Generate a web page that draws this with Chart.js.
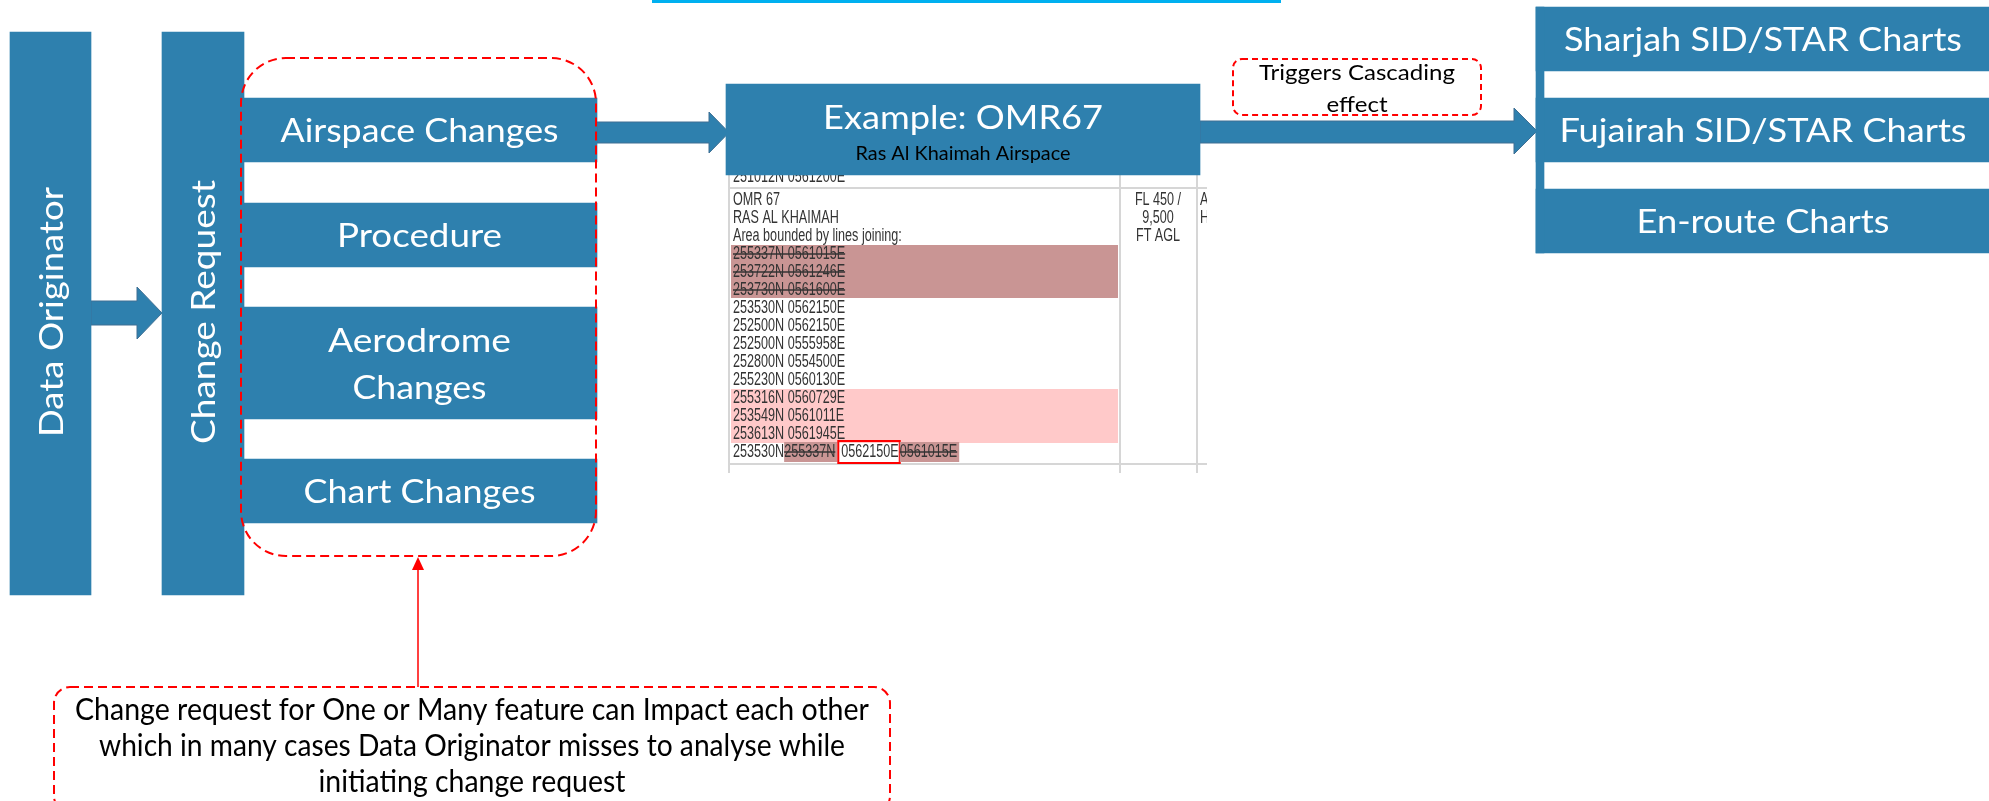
<!DOCTYPE html>
<html>
<head>
<meta charset="utf-8">
<script src="https://cdn.jsdelivr.net/npm/chart.js@4.4.1/dist/chart.umd.min.js"></script>
<style>
  html, body { margin: 0; padding: 0; background: #ffffff; }
  #wrap { width: 1989px; height: 801px; position: relative; }
</style>
</head>
<body>
<div id="wrap"><canvas id="flowChart"></canvas></div>
<script>
// ---- content ----
const sourceLabels = ["Data Originator", "Change Request"];
const changeTypes = [["Airspace Changes"], ["Procedure"], ["Aerodrome", "Changes"], ["Chart Changes"]];
const exampleTitle = "Example: OMR67";
const exampleSubtitle = "Ras Al Khaimah Airspace";
const affectedCharts = ["Sharjah SID/STAR Charts", "Fujairah SID/STAR Charts", "En-route Charts"];
const cascadeNote = ["Triggers Cascading", "effect"];
const impactNote = [
  "Change request for One or Many feature can Impact each other",
  "which in many cases Data Originator misses to analyse while",
  "initiating change request"
];
// AIP extract shown under the example box
const tableHeadRows = ["OMR 67", "RAS AL KHAIMAH", "Area bounded by lines joining:"];
const removedPoints = ["255337N 0561015E", "253722N 0561246E", "253730N 0561600E"];
const keptPoints = ["253530N 0562150E", "252500N 0562150E", "252500N 0555958E", "252800N 0554500E", "255230N 0560130E"];
const addedPoints = ["255316N 0560729E", "253549N 0561011E", "253613N 0561945E"];
const closingPoint = ["253530N", "255337N", "0562150E", "0561015E"];
const limitsText = ["FL 450 /", "9,500", "FT AGL"];

// ---- layout (pixel units of the hidden linear axes) ----
const W = 1989, H = 801;
const BLUE = "#2e80ae";
const srcCols = [[10, 91], [162, 244]];
const srcTop = 32, srcBottom = 595;
const chgX = [242, 597];
const chgRows = [[98, 162], [203, 267], [307, 419], [459, 523]];
const exBox = { x0: 726, x1: 1200, y0: 84, y1: 175 };
const rightX = [1536, 1995];
const rightRows = [[7, 71], [98, 162], [189, 253]];

function bar(x0, x1, y0, y1) {
  return {
    type: "bar",
    data: [{ x: (x0 + x1) / 2, y: [y0, y1] }],
    barThickness: x1 - x0,
    backgroundColor: BLUE,
    borderWidth: 0,
    grouped: false
  };
}

const datasets = [];
srcCols.forEach(c => datasets.push(bar(c[0], c[1], srcTop, srcBottom)));
chgRows.forEach(r => datasets.push(bar(chgX[0], chgX[1], r[0], r[1])));
datasets.push(bar(exBox.x0, exBox.x1, exBox.y0, exBox.y1));
datasets.push(bar(rightX[0], rightX[0] + 8, rightRows[0][0], rightRows[2][1]));
rightRows.forEach(r => datasets.push(bar(rightX[0], rightX[1], r[0], r[1])));

function fitText(ctx, text, cx, y, font, width, color) {
  ctx.save();
  ctx.font = font;
  ctx.fillStyle = color;
  ctx.textAlign = "center";
  ctx.textBaseline = "alphabetic";
  const m = ctx.measureText(text).width;
  ctx.translate(cx, y);
  ctx.scale(width / m, 1);
  ctx.fillText(text, 0, 0);
  ctx.restore();
}

function dashedRound(ctx, x0, y0, x1, y1, r, dash) {
  ctx.save();
  ctx.strokeStyle = "#ff0000";
  ctx.lineWidth = 2;
  ctx.setLineDash(dash);
  ctx.beginPath();
  ctx.roundRect(x0, y0, x1 - x0, y1 - y0, r);
  ctx.stroke();
  ctx.restore();
}

function blockArrow(ctx, x0, xh, xt, sy0, sy1, hy0, hy1) {
  const ty = (hy0 + hy1) / 2;
  ctx.save();
  ctx.fillStyle = BLUE;
  ctx.strokeStyle = "#3f6f93";
  ctx.lineWidth = 1;
  ctx.beginPath();
  ctx.moveTo(x0, sy0);
  ctx.lineTo(xh, sy0);
  ctx.lineTo(xh, hy0);
  ctx.lineTo(xt, ty);
  ctx.lineTo(xh, hy1);
  ctx.lineTo(xh, sy1);
  ctx.lineTo(x0, sy1);
  ctx.closePath();
  ctx.fill();
  ctx.stroke();
  ctx.restore();
}

const tableFont = "18px 'Liberation Sans', Arial, sans-serif";
const tableSx = 0.70;
function tText(ctx, text, x, y, align) {
  ctx.save();
  ctx.font = tableFont;
  ctx.fillStyle = "#333333";
  ctx.textAlign = align || "left";
  ctx.translate(x, y);
  ctx.scale(tableSx, 1);
  ctx.fillText(text, 0, 0);
  ctx.restore();
}
function tWidth(ctx, text) {
  ctx.save();
  ctx.font = tableFont;
  const w = ctx.measureText(text).width * tableSx;
  ctx.restore();
  return w;
}

const diagramPlugin = {
  id: "diagram",
  beforeDatasetsDraw(chart) {
    const ctx = chart.ctx;
    const X = v => chart.scales.x.getPixelForValue(v);
    const Y = v => chart.scales.y.getPixelForValue(v);

    // AIP table extract
    ctx.save();
    ctx.beginPath();
    ctx.rect(X(727), Y(175), X(1207) - X(727), Y(473) - Y(175));
    ctx.clip();
    ctx.fillStyle = "#ffffff";
    ctx.fillRect(X(727), Y(175), X(1207) - X(727), Y(473) - Y(175));
    const left = X(733);
    const lineY = i => Y(205 + 18 * i);
    // highlight bands
    ctx.fillStyle = "#c99594";
    ctx.fillRect(X(731), Y(245), X(1118) - X(731), Y(298) - Y(245));
    ctx.fillStyle = "#ffc9c9";
    ctx.fillRect(X(731), Y(389), X(1118) - X(731), Y(443) - Y(389));
    // grid lines
    ctx.strokeStyle = "#d6d6d6";
    ctx.lineWidth = 2;
    ctx.beginPath();
    ctx.moveTo(X(729), Y(188)); ctx.lineTo(X(1207), Y(188));
    ctx.moveTo(X(729), Y(464)); ctx.lineTo(X(1207), Y(464));
    ctx.moveTo(X(729), Y(175)); ctx.lineTo(X(729), Y(473));
    ctx.moveTo(X(1120), Y(175)); ctx.lineTo(X(1120), Y(473));
    ctx.moveTo(X(1197), Y(175)); ctx.lineTo(X(1197), Y(473));
    ctx.stroke();
    // partial rows above and below
    tText(ctx, "251012N 0561200E", left, Y(182));
    tText(ctx, "OMR 68", left, Y(486));
    tText(ctx, "5,000", X(1158), Y(486), "center");
    tText(ctx, "F", X(1200), Y(486));
    // rows
    let i = 0;
    tableHeadRows.forEach(t => { tText(ctx, t, left, lineY(i)); i++; });
    removedPoints.forEach(t => {
      tText(ctx, t, left, lineY(i));
      ctx.strokeStyle = "#333333"; ctx.lineWidth = 1.3;
      ctx.beginPath();
      ctx.moveTo(left, lineY(i) - 5); ctx.lineTo(left + tWidth(ctx, t), lineY(i) - 5);
      ctx.stroke();
      i++;
    });
    keptPoints.forEach(t => { tText(ctx, t, left, lineY(i)); i++; });
    addedPoints.forEach(t => { tText(ctx, t, left, lineY(i)); i++; });
    // closing line with edits
    const ly = lineY(i);
    let cx = left;
    tText(ctx, closingPoint[0], cx, ly);
    cx += tWidth(ctx, closingPoint[0]);
    let w = tWidth(ctx, closingPoint[1]);
    ctx.fillStyle = "#c99594";
    ctx.fillRect(cx, ly - 15, w + 2, 20);
    tText(ctx, closingPoint[1], cx, ly);
    ctx.strokeStyle = "#333333"; ctx.lineWidth = 1.3;
    ctx.beginPath(); ctx.moveTo(cx, ly - 5); ctx.lineTo(cx + w, ly - 5); ctx.stroke();
    cx += w + 6;
    w = tWidth(ctx, closingPoint[2]);
    tText(ctx, closingPoint[2], cx, ly);
    ctx.strokeStyle = "#ff0000"; ctx.lineWidth = 2;
    ctx.strokeRect(cx - 3, ly - 16, w + 4, 22);
    cx += w + 1;
    w = tWidth(ctx, closingPoint[3]);
    ctx.fillStyle = "#c99594";
    ctx.fillRect(cx, ly - 15, w + 2, 20);
    tText(ctx, closingPoint[3], cx, ly);
    ctx.strokeStyle = "#333333"; ctx.lineWidth = 1.3;
    ctx.beginPath(); ctx.moveTo(cx, ly - 5); ctx.lineTo(cx + w, ly - 5); ctx.stroke();
    // level limits column
    limitsText.forEach((t, k) => tText(ctx, t, X(1158), lineY(k), "center"));
    tText(ctx, "A", X(1200), lineY(0));
    tText(ctx, "H", X(1200), lineY(1));
    ctx.restore();

    // block arrows
    blockArrow(ctx, X(91), X(137), X(162), Y(301), Y(325), Y(287), Y(339));
    blockArrow(ctx, X(597), X(709), X(729), Y(122), Y(143), Y(112), Y(153));
    blockArrow(ctx, X(1200), X(1514), X(1537), Y(121), Y(143), Y(108), Y(154));
  },
  afterDatasetsDraw(chart) {
    const ctx = chart.ctx;
    const X = v => chart.scales.x.getPixelForValue(v);
    const Y = v => chart.scales.y.getPixelForValue(v);
    const big = "33px Lato, 'Open Sans', sans-serif";

    // cyan header rule
    ctx.fillStyle = "#00b0f0";
    ctx.fillRect(X(652), Y(0), X(1281) - X(652), Y(3) - Y(0));

    // vertical labels
    const srcWidths = [250, 264];
    sourceLabels.forEach((t, k) => {
      const cx = (srcCols[k][0] + srcCols[k][1]) / 2;
      ctx.save();
      ctx.translate(X(cx), Y(312));
      ctx.rotate(-Math.PI / 2);
      fitText(ctx, t, 0, 12, big, srcWidths[k], "#ffffff");
      ctx.restore();
    });

    // change type labels
    const chgWidths = [[278], [165], [183, 134], [232]];
    const cxChg = X((chgX[0] + chgX[1]) / 2);
    changeTypes.forEach((lines, k) => {
      const mid = (chgRows[k][0] + chgRows[k][1]) / 2;
      lines.forEach((t, j) => {
        const base = mid + 12 + (j - (lines.length - 1) / 2) * 47;
        fitText(ctx, t, cxChg, Y(base), big, chgWidths[k][j], "#ffffff");
      });
    });

    // example box
    const exC = X((exBox.x0 + exBox.x1) / 2);
    fitText(ctx, exampleTitle, exC, Y(129), big, 280, "#ffffff");
    fitText(ctx, exampleSubtitle, exC, Y(160), "19px Lato, 'Open Sans', sans-serif", 215, "#000000");

    // affected charts
    const rWidths = [398, 407, 253];
    const rC = X(1763);
    affectedCharts.forEach((t, k) => {
      const mid = (rightRows[k][0] + rightRows[k][1]) / 2;
      fitText(ctx, t, rC, Y(mid + 12), big, rWidths[k], "#ffffff");
    });

    // dashed group outline around change types
    dashedRound(ctx, X(241), Y(58), X(596), Y(556), 45, [9, 5]);

    // cascade note
    dashedRound(ctx, X(1233), Y(59), X(1481), Y(115), 9, [6, 4]);
    fitText(ctx, cascadeNote[0], X(1357), Y(80), "22px Lato, 'Open Sans', sans-serif", 196, "#000000");
    fitText(ctx, cascadeNote[1], X(1357), Y(112), "22px Lato, 'Open Sans', sans-serif", 61, "#000000");

    // impact note + red connector
    dashedRound(ctx, X(54), Y(687), X(890), Y(812), 16, [9, 5]);
    const nWidths = [794, 746, 307];
    impactNote.forEach((t, k) => {
      fitText(ctx, t, X(472), Y(720 + 36 * k), "30px Lato, 'Open Sans', sans-serif", nWidths[k], "#000000");
    });
    ctx.save();
    ctx.strokeStyle = "#ff0000";
    ctx.fillStyle = "#ff0000";
    ctx.lineWidth = 1.5;
    ctx.beginPath();
    ctx.moveTo(X(418), Y(687));
    ctx.lineTo(X(418), Y(568));
    ctx.stroke();
    ctx.beginPath();
    ctx.moveTo(X(418), Y(557));
    ctx.lineTo(X(424), Y(570));
    ctx.lineTo(X(412), Y(570));
    ctx.closePath();
    ctx.fill();
    ctx.restore();
  }
};

new Chart(document.getElementById("flowChart"), {
  type: "bar",
  data: { datasets: datasets },
  options: {
    responsive: true,
    maintainAspectRatio: false,
    animation: false,
    events: [],
    layout: { padding: 0 },
    plugins: {
      legend: { display: false },
      tooltip: { enabled: false }
    },
    scales: {
      x: { type: "linear", min: 0, max: W, offset: false, display: false },
      y: { type: "linear", min: 0, max: H, reverse: true, display: false }
    }
  },
  plugins: [diagramPlugin]
});
</script>
</body>
</html>
